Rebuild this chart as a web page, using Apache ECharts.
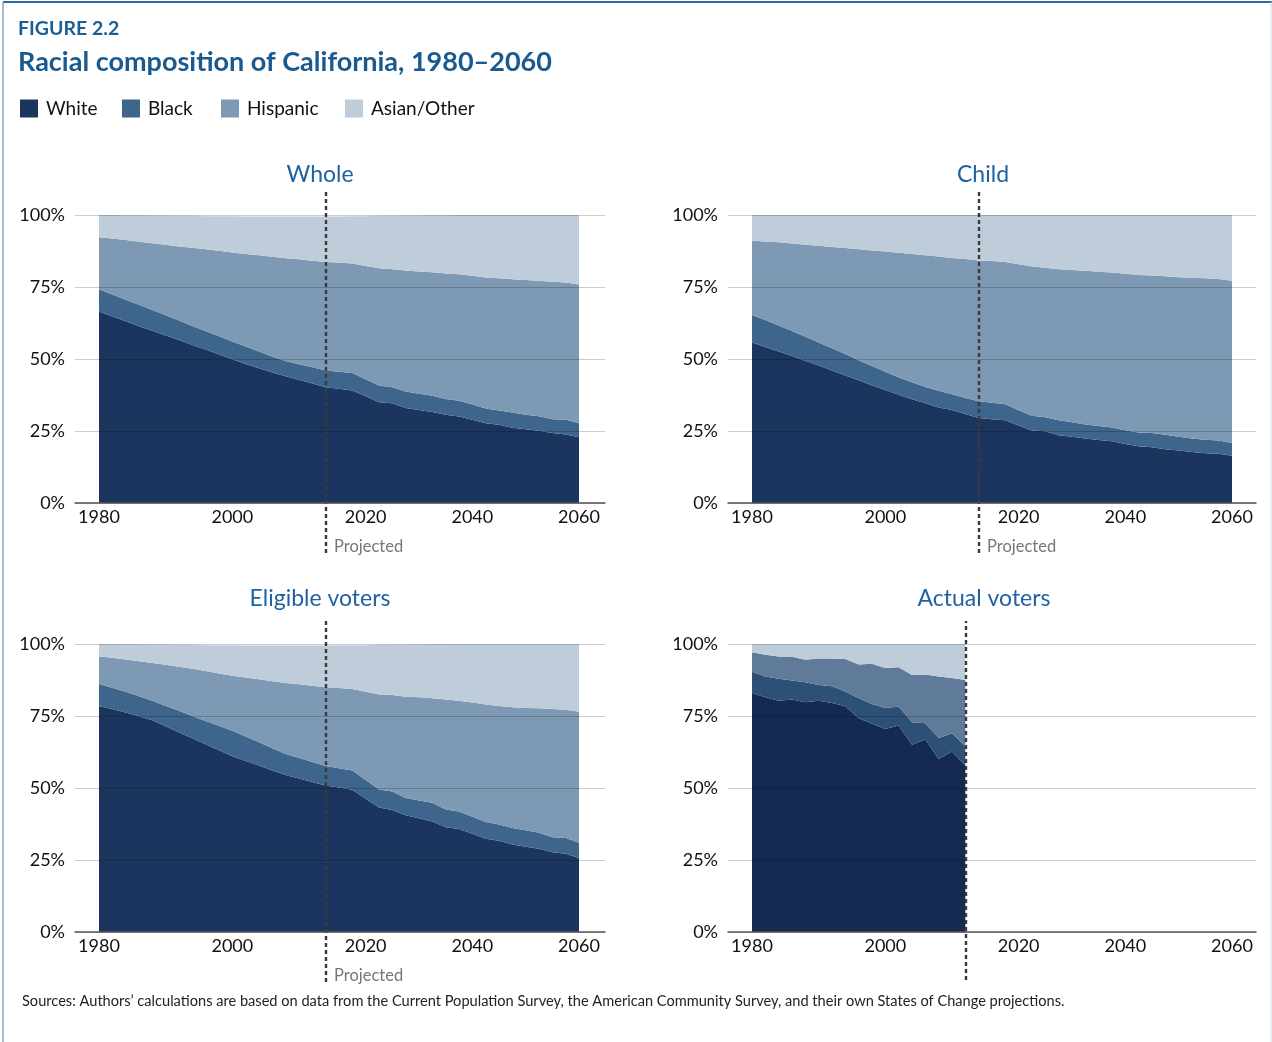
<!DOCTYPE html>
<html>
<head>
<meta charset="utf-8">
<script src="https://cdn.jsdelivr.net/npm/echarts@6/dist/echarts.min.js"></script>
<style>
html,body{margin:0;padding:0;background:#fff;}
#chart{width:1272px;height:1042px;}
</style>
</head>
<body>
<div id="chart"></div>
<script>
// ---------- DATA ----------
const categories = ['1980','1982','1984','1986','1988','1990','1992','1994','1996','1998',
  '2000','2002','2004','2006','2008','2010','2012','2014','2016','2018','2020',
  '2022','2025','2027','2030','2032','2035','2037','2040','2042','2045','2047','2050','2052','2055','2057','2060'];
const xTickLabels = ['1980','2000','2020','2040','2060'];
const yTicks = [0, 25, 50, 75, 100];
const projectedStart = '2014';
const actualEnd = '2012';
const groupNames = ['White','Black','Hispanic','Asian/Other'];
const panelTitles = ['Whole','Child','Eligible voters','Actual voters'];

const wholeWhite = [66.5,64.8,63.1,61.4,59.8,58.2,56.6,54.9,53.3,51.6,49.9,48.3,46.8,45.3,44.0,42.8,41.5,40.2,39.7,39.1,37.1,35.0,34.6,33.0,32.3,31.6,30.6,30.0,28.9,27.7,27.2,26.1,25.6,25.1,24.3,23.8,22.8];
const wholeBlack = [7.7,7.6,7.5,7.4,7.2,7.0,6.8,6.6,6.4,6.3,6.2,6.0,5.8,5.5,5.3,5.4,5.6,5.8,5.9,6.0,5.9,5.8,5.6,5.7,5.6,5.6,5.5,5.5,5.3,5.1,4.9,5.3,5.0,5.0,4.8,5.1,4.9];
const wholeHispanic = [18.1,19.4,20.7,21.9,23.2,24.5,25.7,27.1,28.4,29.7,30.9,32.2,33.4,34.7,35.7,36.4,37.0,37.7,37.9,38.1,39.3,40.7,41.0,42.0,42.5,42.9,43.6,43.9,44.7,45.5,45.9,46.3,46.8,47.1,47.7,47.7,48.2];
const wholeAsian = [7.7,8.2,8.6,9.2,9.6,10.1,10.6,11.1,11.5,12.0,12.6,13.0,13.5,14.0,14.5,14.9,15.4,15.8,16.0,16.4,17.3,18.2,18.5,19.1,19.4,19.8,20.2,20.6,21.1,21.7,22.0,22.3,22.6,22.8,23.2,23.4,24.1];

const childWhite = [55.7,54.2,52.6,51.0,49.4,47.7,46.0,44.3,42.6,40.8,39.2,37.6,36.0,34.6,33.2,32.3,30.9,29.5,29.1,28.7,26.9,25.2,24.9,23.5,23.0,22.4,21.9,21.4,20.5,19.7,19.4,18.7,18.2,17.7,17.3,17.1,16.4];
const childBlack = [9.6,9.3,9.0,8.7,8.3,8.0,7.7,7.4,7.0,6.8,6.4,6.0,5.9,5.7,5.8,5.5,5.6,5.8,5.7,5.6,5.3,5.1,4.9,5.2,5.0,4.9,4.8,4.8,4.8,4.8,4.9,5.0,4.8,4.7,4.7,4.6,4.4];
const childHispanic = [25.8,27.3,28.9,30.4,32.0,33.6,35.2,36.8,38.5,40.1,41.7,43.3,44.6,45.7,46.6,47.3,48.2,48.9,49.2,49.4,50.7,51.8,51.9,52.5,52.9,53.3,53.6,53.8,54.3,54.7,54.7,55.0,55.4,55.8,56.0,56.1,56.4];
const childAsian = [8.9,9.2,9.5,9.9,10.3,10.7,11.1,11.5,11.9,12.3,12.7,13.1,13.5,14.0,14.4,14.9,15.3,15.8,16.0,16.3,17.1,17.9,18.3,18.8,19.1,19.4,19.7,20.0,20.4,20.8,21.0,21.3,21.6,21.8,22.0,22.2,22.8];

const eligibleWhite = [78.4,77.4,76.2,74.9,73.5,71.4,69.3,67.3,65.2,63.1,61.0,59.4,57.8,56.1,54.5,53.3,52.1,50.9,50.2,49.4,46.3,43.2,42.4,40.5,39.5,38.4,36.4,35.8,34.1,32.4,31.7,30.4,29.6,28.9,27.7,27.2,25.7];
const eligibleBlack = [7.7,7.4,7.2,7.0,6.8,7.1,7.5,7.7,8.1,8.5,8.9,8.5,8.1,7.7,7.3,7.1,6.9,6.7,6.7,6.7,6.5,6.3,6.4,6.0,6.2,6.5,6.1,6.0,5.9,5.8,5.6,5.7,5.7,5.6,5.2,5.4,5.3];
const eligibleHispanic = [9.6,10.4,11.2,12.1,13.1,14.3,15.3,16.4,17.3,18.2,19.1,20.5,21.9,23.3,24.7,25.6,26.5,27.4,27.8,28.3,30.6,33.0,33.5,35.2,35.8,36.3,38.2,38.5,39.7,40.8,41.2,41.9,42.5,43.2,44.5,44.6,45.5];
const eligibleAsian = [4.3,4.8,5.3,5.9,6.4,7.0,7.6,8.3,9.0,9.8,10.6,11.1,11.7,12.4,13.0,13.5,14.0,14.5,14.9,15.2,16.2,17.2,17.4,18.1,18.3,18.7,19.2,19.7,20.3,21.0,21.5,22.0,22.2,22.3,22.6,22.8,23.5];

const actualWhite = [83.0,81.5,80.3,80.7,79.8,80.3,79.5,78.4,74.2,72.3,70.5,71.7,65.0,66.8,60.1,62.7,57.8];
const actualBlack = [7.4,7.2,7.6,6.6,6.9,5.5,5.8,5.1,7.0,6.9,7.3,6.6,7.8,5.7,7.3,6.3,6.7];
const actualHispanic = [6.7,7.6,7.8,8.3,7.8,9.2,9.7,11.3,11.7,13.9,13.9,13.6,16.4,16.9,21.3,19.2,23.0];
const actualAsian = [2.9,3.7,4.3,4.4,5.5,5.0,5.0,5.2,7.1,6.9,8.3,8.1,10.8,10.6,11.3,11.8,12.5];

// ---------- STYLE / LAYOUT ----------
const FONT = 'Lato, "Open Sans", "Noto Sans", sans-serif';
const mainColors = ['#1c355e', '#3e658b', '#7e99b3', '#bfcddb'];
const actualColors = ['#142a51', '#2d5077', '#5f7b99', '#bfcddb'];
const titleBlue = '#1b5e94';

const panels = [
  {title: panelTitles[0], data: [wholeWhite, wholeBlack, wholeHispanic, wholeAsian], colors: mainColors,
   left: 99, top: 215, bgLeft: 75, bgWidth: 530, mark: projectedStart, dashTop: 192, dashBottom: 553, projected: true, titleX: 320, titleY: 175},
  {title: panelTitles[1], data: [childWhite, childBlack, childHispanic, childAsian], colors: mainColors,
   left: 752, top: 215, bgLeft: 728, bgWidth: 528, mark: projectedStart, dashTop: 192, dashBottom: 553, projected: true, titleX: 983, titleY: 175},
  {title: panelTitles[2], data: [eligibleWhite, eligibleBlack, eligibleHispanic, eligibleAsian], colors: mainColors,
   left: 99, top: 644, bgLeft: 75, bgWidth: 530, mark: projectedStart, dashTop: 621, dashBottom: 982, projected: true, titleX: 320, titleY: 599},
  {title: panelTitles[3], data: [actualWhite, actualBlack, actualHispanic, actualAsian], colors: actualColors,
   left: 752, top: 644, bgLeft: 728, bgWidth: 528, mark: actualEnd, dashTop: 621, dashBottom: 980, projected: false, titleX: 984, titleY: 599}
];
const DATA_W = 480, PLOT_H = 288;

const grid = [], xAxis = [], yAxis = [], series = [], graphic = [];

panels.forEach((p, pi) => {
  const gData = grid.length;
  grid.push({left: p.left, top: p.top, width: DATA_W, height: PLOT_H});
  const gBg = grid.length;
  grid.push({left: p.bgLeft, top: p.top, width: p.bgWidth, height: PLOT_H});
  const gDash = grid.length;
  grid.push({left: p.left, top: p.dashTop, width: DATA_W, height: p.dashBottom - p.dashTop});

  xAxis.push({gridIndex: gData, type: 'category', data: categories, boundaryGap: false,
    axisLine: {show: false}, axisTick: {show: false}, splitLine: {show: false},
    axisLabel: {interval: 0, margin: 5, color: '#111', fontSize: 18, fontFamily: FONT,
      formatter: v => xTickLabels.includes(v) ? v : ''}});
  yAxis.push({gridIndex: gData, type: 'value', min: 0, max: 100, show: false});
  xAxis.push({gridIndex: gBg, type: 'category', data: categories, boundaryGap: false, z: 6,
    axisLine: {show: true, lineStyle: {color: '#555', width: 1.5}}, axisTick: {show: false},
    axisLabel: {show: false}, splitLine: {show: false}});
  yAxis.push({gridIndex: gBg, type: 'value', min: 0, max: 100, interval: 25, z: 6,
    axisLine: {show: false}, axisTick: {show: false},
    axisLabel: {margin: 10, color: '#111', fontSize: 18, fontFamily: FONT, formatter: '{value}%'},
    splitLine: {show: true, lineStyle: {color: 'rgba(0,0,0,0.2)', width: 1.2}}});
  xAxis.push({gridIndex: gDash, type: 'category', data: categories, boundaryGap: false, show: false});
  yAxis.push({gridIndex: gDash, type: 'value', min: 0, max: 1, show: false});

  p.data.forEach((arr, k) => {
    series.push({
      name: groupNames[k], type: 'line', xAxisIndex: gData, yAxisIndex: gData,
      stack: 'panel' + pi, data: arr, symbol: 'none', smooth: false, silent: true,
      lineStyle: {width: 0}, itemStyle: {color: p.colors[k]},
      areaStyle: {color: p.colors[k], opacity: 1}, z: 2
    });
  });
  series.push({
    type: 'line', xAxisIndex: gDash, yAxisIndex: gDash, data: [], silent: true, z: 8,
    markLine: {symbol: 'none', silent: true, label: {show: false},
      lineStyle: {type: [4, 3], color: '#3a3a3a', width: 2.4},
      data: [{xAxis: p.mark}]}
  });

  graphic.push({type: 'text', x: p.titleX, y: p.titleY,
    style: {text: p.title, fill: '#1f62a0', fontSize: 23, fontFamily: FONT, textAlign: 'center', textVerticalAlign: 'middle'}});
  if (p.projected) {
    graphic.push({type: 'text', x: p.left + 235, y: p.dashBottom - 6,
      style: {text: 'Projected', fill: '#777', fontSize: 16.5, fontFamily: FONT, textAlign: 'left', textVerticalAlign: 'middle'}});
  }
});

graphic.push(
  {type: 'line', shape: {x1: 3, y1: 2, x2: 1272, y2: 2}, style: {stroke: '#2d6ca6', lineWidth: 2}},
  {type: 'line', shape: {x1: 3, y1: 2, x2: 3, y2: 1042}, style: {stroke: '#88a6c4', lineWidth: 1.5}},
  {type: 'line', shape: {x1: 1271, y1: 2, x2: 1271, y2: 1042}, style: {stroke: '#d5dde5', lineWidth: 1}},
  {type: 'text', x: 18, y: 29, style: {text: 'FIGURE 2.2', fill: titleBlue, fontSize: 19.5, fontWeight: 'bold', fontFamily: FONT, textVerticalAlign: 'middle'}},
  {type: 'text', x: 18, y: 62, style: {text: 'Racial composition of California, 1980–2060', fill: '#1a5a8f', fontSize: 27, fontWeight: 'bold', fontFamily: FONT, textVerticalAlign: 'middle'}},
  {type: 'text', x: 22, y: 1001, style: {text: 'Sources: Authors’ calculations are based on data from the Current Population Survey, the American Community Survey, and their own States of Change projections.', fill: '#222', fontSize: 14.6, fontFamily: FONT, textVerticalAlign: 'middle'}}
);

const legendLefts = [15, 117, 216, 340];
const legend = groupNames.map((n, i) => ({
  data: [n], left: legendLefts[i], top: 94, icon: 'rect', itemWidth: 18, itemHeight: 18,
  selectedMode: false, textStyle: {color: '#111', fontSize: 19, fontFamily: FONT, padding: [0, 0, 0, 3]}
}));

const chart = echarts.init(document.getElementById('chart'), null, {renderer: 'canvas'});
chart.setOption({
  backgroundColor: '#fff',
  animation: false,
  legend, grid, xAxis, yAxis, series, graphic
});
</script>
</body>
</html>
